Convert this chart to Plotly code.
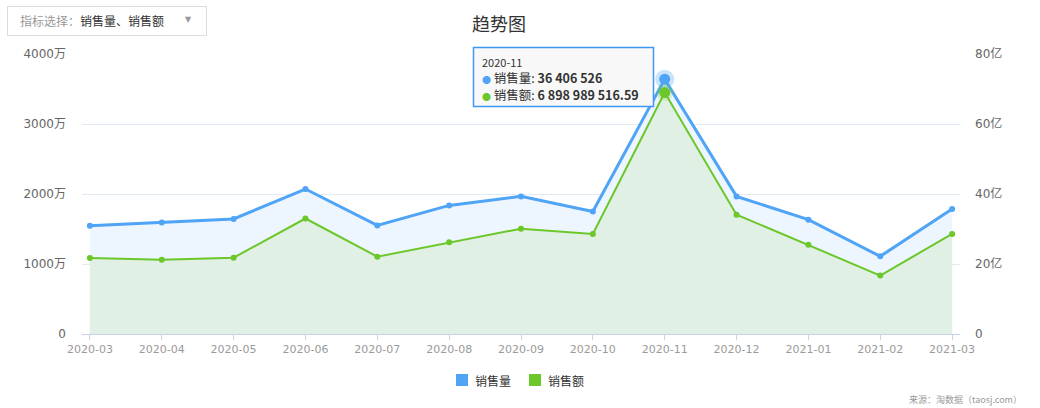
import plotly.graph_objects as go

months = ["2020-03", "2020-04", "2020-05", "2020-06", "2020-07", "2020-08", "2020-09",
          "2020-10", "2020-11", "2020-12", "2021-01", "2021-02", "2021-03"]
# 销售量 (units)
sales_volume = [15470000, 15940000, 16430000, 20710000, 15510000, 18370000, 19660000,
                17510000, 36406526, 19660000, 16330000, 11090000, 17860000]
# 销售额 (yuan)
sales_amount = [2170000000, 2120000000, 2180000000, 3300000000, 2210000000, 2620000000,
                3010000000, 2860000000, 6898989516.59, 3410000000, 2550000000,
                1670000000, 2860000000]

left_tickvals = [0, 10000000, 20000000, 30000000, 40000000]
left_ticktext = ["0", "1000万", "2000万", "3000万", "4000万"]
right_tickvals = [0, 2000000000, 4000000000, 6000000000, 8000000000]
right_ticktext = ["0", "20亿", "40亿", "60亿", "80亿"]
legend_names = ["销售量", "销售额"]

highlight_idx = 8
BLUE = "#4fa4f6"
GREEN = "#6cc72a"
FONT = "Noto Sans CJK SC"
NUMFONT = "DejaVu Sans, Noto Sans CJK SC"

W, H = 1040, 408
# plot area in pixel coordinates
L_REF, R_REF, T_REF, B_REF = 82, 960, 54, 334
ML, MT, MR, MB = L_REF, T_REF, W - R_REF, H - B_REF
PW = W - ML - MR
PH = H - MT - MB


def px(x):
    return (x - L_REF) / PW


def py(y):
    return (B_REF - y) / PH


def fmt(v):
    s = f"{v:,.2f}" if v != int(v) else f"{int(v):,}"
    return s.replace(",", " ")


xi = list(range(len(months)))

fig = go.Figure()
fig.add_trace(go.Scatter(
    x=xi, y=sales_volume, yaxis="y", mode="lines+markers",
    line=dict(color=BLUE, width=3), marker=dict(size=6, color=BLUE),
    fill="tozeroy", fillcolor="#edf5fe", showlegend=False, hoverinfo="skip"))
fig.add_trace(go.Scatter(
    x=xi, y=sales_amount, yaxis="y2", mode="lines+markers",
    line=dict(color=GREEN, width=2), marker=dict(size=6, color=GREEN),
    fill="tozeroy", fillcolor="#e0f0e5", showlegend=False, hoverinfo="skip"))
# emphasised points
fig.add_trace(go.Scatter(
    x=[xi[highlight_idx]], y=[sales_volume[highlight_idx]], yaxis="y", mode="markers",
    marker=dict(size=19, color="rgba(79,164,246,0.3)"), showlegend=False, hoverinfo="skip"))
fig.add_trace(go.Scatter(
    x=[xi[highlight_idx]], y=[sales_volume[highlight_idx]], yaxis="y", mode="markers",
    marker=dict(size=11, color=BLUE), showlegend=False, hoverinfo="skip"))
fig.add_trace(go.Scatter(
    x=[xi[highlight_idx]], y=[sales_amount[highlight_idx]], yaxis="y2", mode="markers",
    marker=dict(size=17, color="rgba(108,199,42,0.2)"), showlegend=False, hoverinfo="skip"))
fig.add_trace(go.Scatter(
    x=[xi[highlight_idx]], y=[sales_amount[highlight_idx]], yaxis="y2", mode="markers",
    marker=dict(size=11, color=GREEN), showlegend=False, hoverinfo="skip"))

grid = "#e2eaf3"
axisc = "#c6d3ea"
fig.update_layout(
    width=W, height=H,
    margin=dict(l=ML, r=MR, t=MT, b=MB),
    paper_bgcolor="white", plot_bgcolor="white",
    font=dict(family=FONT, size=12, color="#666"),
    title=dict(text="趋势图", x=499 / W, xanchor="center", y=1 - 25 / H,
               yanchor="middle", font=dict(size=18, color="#333", family=FONT)),
    xaxis=dict(range=[-0.11, 12.11], tickvals=xi, ticktext=months, showgrid=False,
               showline=True, linecolor=axisc, linewidth=1, ticks="outside", ticklen=5,
               tickcolor=axisc, tickfont=dict(size=11, color="#9a9a9a", family=NUMFONT),
               zeroline=False, fixedrange=True),
    yaxis=dict(range=[0, 40000000], tickvals=left_tickvals, ticktext=left_ticktext,
               showgrid=True, gridcolor=grid, zeroline=False, showline=False,
               ticks="", ticklabelstandoff=15, tickfont=dict(size=12, color="#666", family=NUMFONT)),
    yaxis2=dict(range=[0, 8000000000], tickvals=right_tickvals, ticktext=right_ticktext,
                overlaying="y", side="right", showgrid=False, zeroline=False,
                showline=False, ticks="", ticklabelstandoff=14,
                tickfont=dict(size=12, color="#666", family=NUMFONT)),
    showlegend=False,
    hovermode=False,
)

# legend (drawn manually)
legend_x = [456, 529]
for name, c, lx in zip(legend_names, [BLUE, GREEN], legend_x):
    fig.add_shape(type="rect", xref="paper", yref="paper", x0=px(lx), x1=px(lx + 12),
                  y0=py(386), y1=py(374), line=dict(width=0), fillcolor=c)
    fig.add_annotation(xref="paper", yref="paper", x=px(lx + 17), y=py(380), xanchor="left",
                       yanchor="middle", showarrow=False, text=name,
                       font=dict(size=12, color="#333", family=FONT))

# dropdown-like selector box
fig.add_shape(type="rect", xref="paper", yref="paper", x0=px(7.5), x1=px(206.5),
              y0=py(35.5), y1=py(6.5), line=dict(color="#dcdcdc", width=1), fillcolor="white")
fig.add_annotation(xref="paper", yref="paper", x=px(18), y=py(21), xanchor="left",
                   yanchor="middle", showarrow=False,
                   text="<span style='color:#999'>指标选择：</span><span style='color:#333'>销售量、销售额</span>",
                   font=dict(size=12, family=FONT))
fig.add_annotation(xref="paper", yref="paper", x=px(188.5), y=py(19), xanchor="center",
                   yanchor="middle", showarrow=False, text="▼",
                   font=dict(size=8, color="#999", family="DejaVu Sans"))

# tooltip box
fig.add_shape(type="rect", xref="paper", yref="paper", x0=px(473.5), x1=px(653.5),
              y0=py(106.5), y1=py(47.5), line=dict(color="#3d97f4", width=1.5),
              fillcolor="rgba(248,248,248,0.96)")
fig.add_annotation(xref="paper", yref="paper", x=px(480), y=py(62), xanchor="left",
                   yanchor="middle", showarrow=False, text=months[highlight_idx],
                   font=dict(size=11, color="#333", family=FONT))
tip_rows = [
    (BLUE, legend_names[0], fmt(sales_volume[highlight_idx]), 77),
    (GREEN, legend_names[1], fmt(sales_amount[highlight_idx]), 94),
]
for c, name, val, yy in tip_rows:
    fig.add_annotation(xref="paper", yref="paper", x=px(480), y=py(yy), xanchor="left",
                       yanchor="middle", showarrow=False,
                       text=f"<span style='color:{c};font-size:9px'>●</span> {name}: <b>{val}</b>",
                       font=dict(size=12.5, color="#333", family=FONT))

# source
fig.add_annotation(xref="paper", yref="paper", x=px(1024), y=py(399), xanchor="right",
                   yanchor="middle", showarrow=False, text="来源：淘数据（taosj.com）",
                   font=dict(size=9, color="#999", family=FONT))

fig.write_html("out.html", config={"displayModeBar": False},
               post_script="document.body.style.margin='0';")
